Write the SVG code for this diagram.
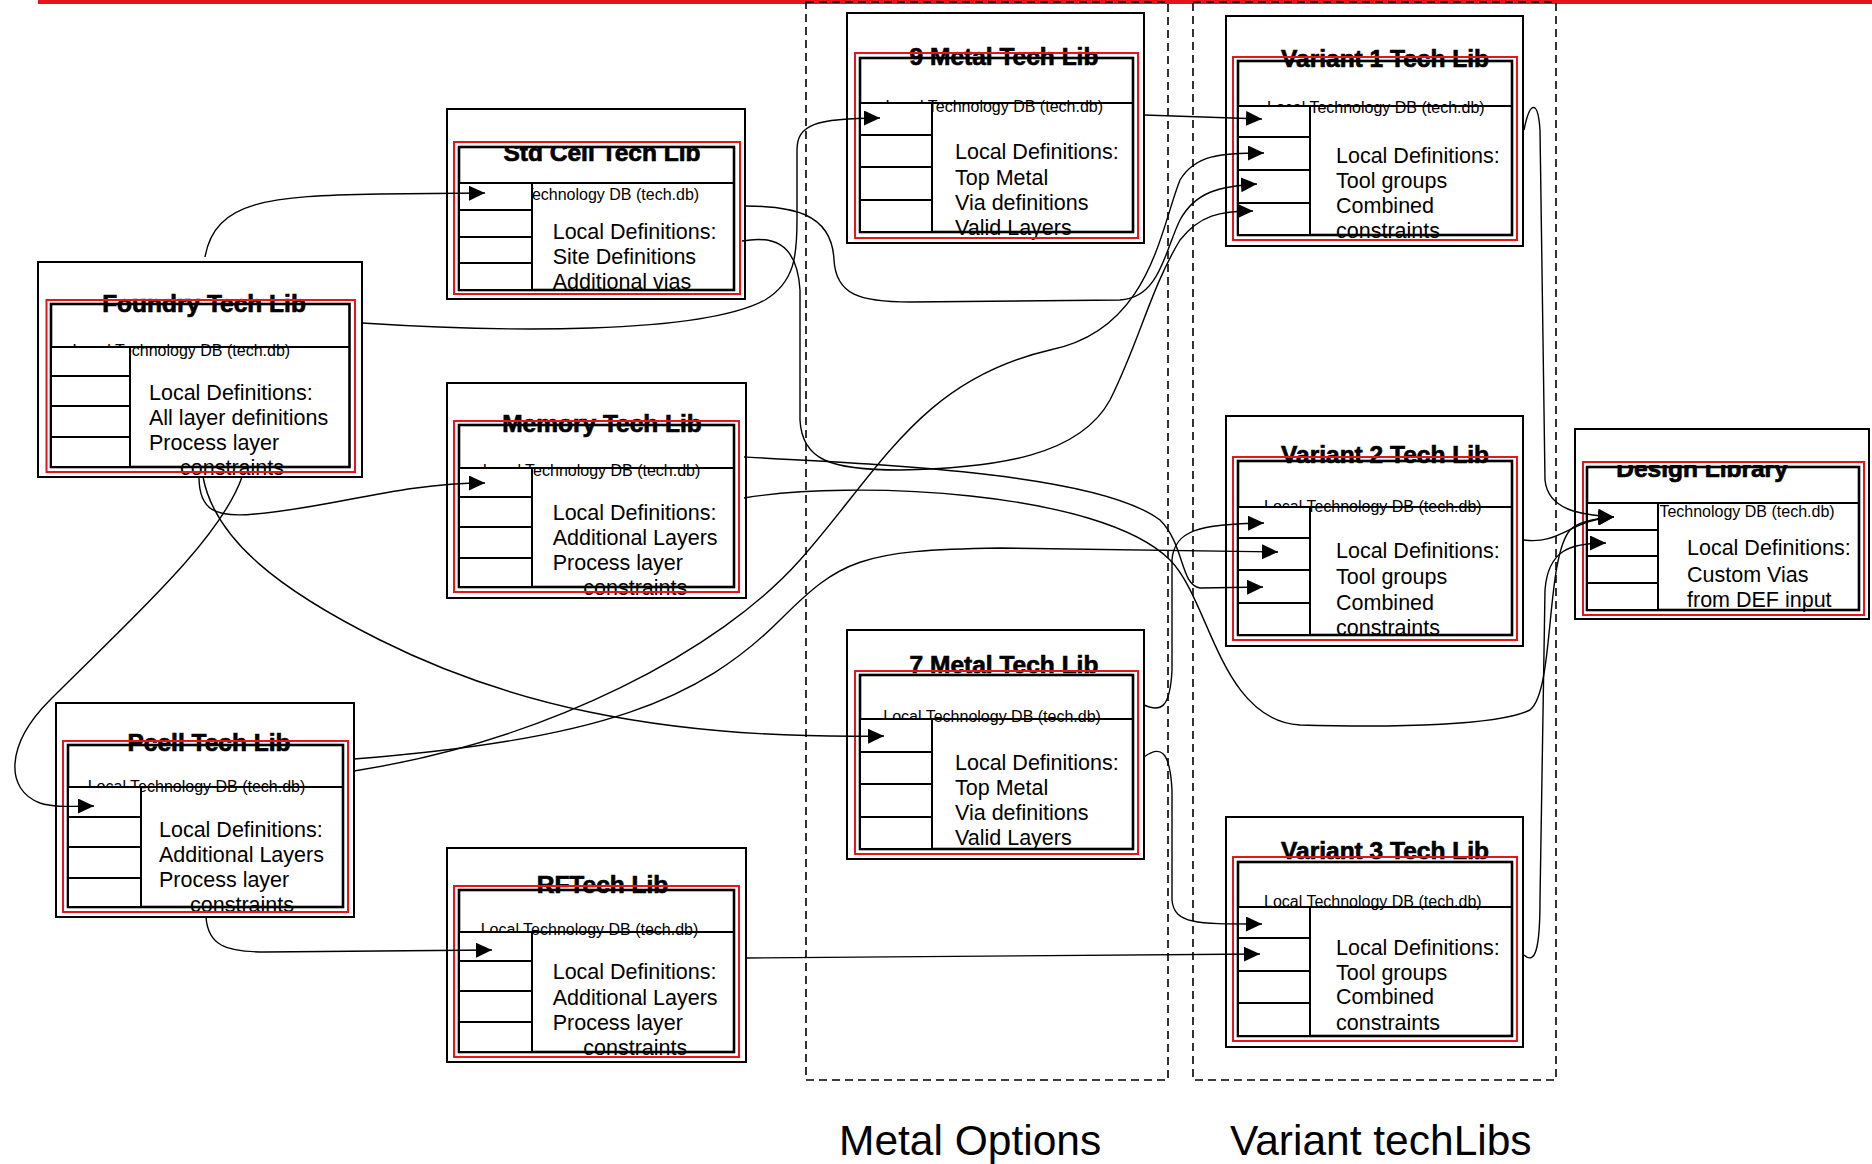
<svg xmlns="http://www.w3.org/2000/svg" width="1872" height="1164" viewBox="0 0 1872 1164">
<style>
  .outer { fill: #fff; stroke: #000; stroke-width: 2; }
  .red { fill: none; stroke: #e8141c; stroke-width: 2; }
  .inner { fill: none; stroke: #000; stroke-width: 2.6; }
  .cell { fill: #fff; stroke: #000; stroke-width: 2; }
  .rule { stroke: #000; stroke-width: 2.2; }
  .title { font-family: "Liberation Sans", Arial, sans-serif; font-weight: bold; font-size: 24.5px; text-anchor: middle; fill: #000; stroke: #000; stroke-width: 0.7; }
  .tech { font-family: "Liberation Sans", Arial, sans-serif; font-size: 16px; fill: #000; }
  .def { font-family: "Liberation Sans", Arial, sans-serif; font-size: 21.5px; fill: #000; }
  .group { fill: none; stroke: #000; stroke-width: 1.6; stroke-dasharray: 8 5; }
  .label { font-family: "Liberation Sans", Arial, sans-serif; font-size: 42.5px; fill: #000; }
  .conn { fill: none; stroke: #000; stroke-width: 1.4; marker-end: url(#arrow); }
</style>
<defs>
  <marker id="arrow" markerUnits="userSpaceOnUse" markerWidth="18" markerHeight="16" refX="16" refY="7.5" orient="auto">
    <path d="M0,0 L16,7.5 L0,15 Z" fill="#000"/>
  </marker>
  <clipPath id="clipStd"><rect x="440" y="146" width="320" height="60"/></clipPath>
  <clipPath id="clipDes"><rect x="1580" y="465" width="290" height="60"/></clipPath>
</defs>

<rect width="1872" height="1164" fill="#fff"/>
<!-- top rule -->
<rect x="38" y="0" width="1834" height="4" fill="#e8141c"/>

<!-- option groupings -->
<g id="groups">
  <rect class="group" x="806" y="2" width="362" height="1078"/>
  <rect class="group" x="1193" y="2" width="363" height="1078"/>
  <text class="label" x="839" y="1155">Metal Options</text>
  <text class="label" x="1230" y="1155">Variant techLibs</text>
</g>

<!-- Foundry Tech Lib -->
<g id="foundry">
  <rect class="outer" x="38" y="262" width="324" height="215"/>
  <text class="title" x="204" y="312">Foundry Tech Lib</text>
  <text class="tech" x="72.5" y="356">Local Technology DB (tech.db)</text>
  <text class="def" x="149" y="400">Local Definitions:</text>
  <text class="def" x="149" y="425">All layer definitions</text>
  <text class="def" x="149" y="450">Process layer</text>
  <text class="def" x="180" y="475">constraints</text>
  <rect class="red" x="46.5" y="300" width="308.5" height="172"/>
  <rect class="inner" x="51" y="304" width="298.5" height="163"/>
  <line class="rule" x1="51" y1="347" x2="349.5" y2="347"/>
  <rect class="cell" x="51" y="347" width="79" height="29"/>
  <rect class="cell" x="51" y="376" width="79" height="30"/>
  <rect class="cell" x="51" y="406" width="79" height="31"/>
  <rect class="cell" x="51" y="437" width="79" height="30"/>
</g>

<!-- Std Cell Tech Lib -->
<g id="stdcell">
  <rect class="outer" x="447" y="109" width="298" height="190"/>
  <text class="title" x="602" y="161" clip-path="url(#clipStd)">Std Cell Tech Lib</text>
  <text class="tech" x="481.5" y="200">Local Technology DB (tech.db)</text>
  <text class="def" x="552.7" y="239">Local Definitions:</text>
  <text class="def" x="552.7" y="264">Site Definitions</text>
  <text class="def" x="552.7" y="289">Additional vias</text>
  <rect class="red" x="454" y="142" width="286" height="152"/>
  <rect class="inner" x="459" y="147" width="275" height="143"/>
  <line class="rule" x1="459" y1="183" x2="734" y2="183"/>
  <rect class="cell" x="459" y="183" width="73" height="27"/>
  <rect class="cell" x="459" y="210" width="73" height="27"/>
  <rect class="cell" x="459" y="237" width="73" height="26"/>
  <rect class="cell" x="459" y="263" width="73" height="27"/>
</g>

<!-- Memory Tech Lib -->
<g id="memory">
  <rect class="outer" x="447" y="383" width="299" height="215"/>
  <text class="title" x="602" y="432">Memory Tech Lib</text>
  <text class="tech" x="482.7" y="476">Local Technology DB (tech.db)</text>
  <text class="def" x="552.7" y="520">Local Definitions:</text>
  <text class="def" x="552.7" y="545">Additional Layers</text>
  <text class="def" x="552.7" y="570">Process layer</text>
  <text class="def" x="583.3" y="595">constraints</text>
  <rect class="red" x="454" y="421" width="285" height="171"/>
  <rect class="inner" x="459" y="425" width="275" height="162"/>
  <line class="rule" x1="459" y1="468" x2="734" y2="468"/>
  <rect class="cell" x="459" y="468" width="73" height="29"/>
  <rect class="cell" x="459" y="497" width="73" height="30"/>
  <rect class="cell" x="459" y="527" width="73" height="31"/>
  <rect class="cell" x="459" y="558" width="73" height="29"/>
</g>

<!-- Pcell Tech Lib -->
<g id="pcell">
  <rect class="outer" x="56" y="703" width="298" height="214"/>
  <text class="title" x="209" y="751">Pcell Tech Lib</text>
  <text class="tech" x="87.7" y="792">Local Technology DB (tech.db)</text>
  <text class="def" x="159" y="837">Local Definitions:</text>
  <text class="def" x="159" y="862">Additional Layers</text>
  <text class="def" x="159" y="887">Process layer</text>
  <text class="def" x="190" y="912">constraints</text>
  <rect class="red" x="63" y="741" width="285" height="171"/>
  <rect class="inner" x="68" y="745" width="275" height="162"/>
  <line class="rule" x1="68" y1="787" x2="343" y2="787"/>
  <rect class="cell" x="68" y="787" width="73" height="30"/>
  <rect class="cell" x="68" y="817" width="73" height="30"/>
  <rect class="cell" x="68" y="847" width="73" height="31"/>
  <rect class="cell" x="68" y="878" width="73" height="29"/>
</g>

<!-- RF Tech Lib -->
<g id="rf">
  <rect class="outer" x="447" y="848" width="299" height="214"/>
  <text class="title" x="602.5" y="893">RFTech Lib</text>
  <text class="tech" x="480.7" y="935">Local Technology DB (tech.db)</text>
  <text class="def" x="552.7" y="979">Local Definitions:</text>
  <text class="def" x="552.7" y="1005">Additional Layers</text>
  <text class="def" x="552.7" y="1030">Process layer</text>
  <text class="def" x="583.3" y="1055">constraints</text>
  <rect class="red" x="454" y="886" width="285" height="171"/>
  <rect class="inner" x="459" y="890" width="275" height="162"/>
  <line class="rule" x1="459" y1="932" x2="734" y2="932"/>
  <rect class="cell" x="459" y="932" width="73" height="29"/>
  <rect class="cell" x="459" y="961" width="73" height="30"/>
  <rect class="cell" x="459" y="991" width="73" height="31"/>
  <rect class="cell" x="459" y="1022" width="73" height="30"/>
</g>

<!-- 9 Metal Tech Lib -->
<g id="metal9">
  <rect class="outer" x="847" y="13" width="297" height="230"/>
  <text class="title" x="1004" y="65">9 Metal Tech Lib</text>
  <text class="tech" x="885.4" y="112">Local Technology DB (tech.db)</text>
  <text class="def" x="955" y="159">Local Definitions:</text>
  <text class="def" x="955" y="185">Top Metal</text>
  <text class="def" x="955" y="210">Via definitions</text>
  <text class="def" x="955" y="235">Valid Layers</text>
  <rect class="red" x="855" y="53" width="283" height="185"/>
  <rect class="inner" x="860" y="58" width="273" height="174"/>
  <line class="rule" x1="860" y1="103" x2="1133" y2="103"/>
  <rect class="cell" x="860" y="103" width="72" height="32"/>
  <rect class="cell" x="860" y="135" width="72" height="32"/>
  <rect class="cell" x="860" y="167" width="72" height="33"/>
  <rect class="cell" x="860" y="200" width="72" height="32"/>
</g>

<!-- 7 Metal Tech Lib -->
<g id="metal7">
  <rect class="outer" x="847" y="630" width="297" height="229"/>
  <text class="title" x="1004" y="673">7 Metal Tech Lib</text>
  <text class="tech" x="883.3" y="722">Local Technology DB (tech.db)</text>
  <text class="def" x="955" y="770">Local Definitions:</text>
  <text class="def" x="955" y="795">Top Metal</text>
  <text class="def" x="955" y="820">Via definitions</text>
  <text class="def" x="955" y="845">Valid Layers</text>
  <rect class="red" x="855" y="671" width="283" height="183"/>
  <rect class="inner" x="860" y="675" width="273" height="174"/>
  <line class="rule" x1="860" y1="719" x2="1133" y2="719"/>
  <rect class="cell" x="860" y="719" width="72" height="33"/>
  <rect class="cell" x="860" y="752" width="72" height="32"/>
  <rect class="cell" x="860" y="784" width="72" height="33"/>
  <rect class="cell" x="860" y="817" width="72" height="32"/>
</g>

<!-- Variant 1 Tech Lib -->
<g id="variant1">
  <rect class="outer" x="1226" y="16" width="297" height="230"/>
  <text class="title" x="1385" y="67">Variant 1 Tech Lib</text>
  <text class="tech" x="1267" y="113">Local Technology DB (tech.db)</text>
  <text class="def" x="1336" y="163">Local Definitions:</text>
  <text class="def" x="1336" y="188">Tool groups</text>
  <text class="def" x="1336" y="213">Combined</text>
  <text class="def" x="1336" y="238">constraints</text>
  <rect class="red" x="1233" y="57" width="284" height="183"/>
  <rect class="inner" x="1238" y="61" width="274" height="174"/>
  <line class="rule" x1="1238" y1="106" x2="1512" y2="106"/>
  <rect class="cell" x="1238" y="106" width="72" height="31"/>
  <rect class="cell" x="1238" y="137" width="72" height="33"/>
  <rect class="cell" x="1238" y="170" width="72" height="33"/>
  <rect class="cell" x="1238" y="203" width="72" height="32"/>
</g>

<!-- Variant 2 Tech Lib -->
<g id="variant2">
  <rect class="outer" x="1226" y="416" width="297" height="230"/>
  <text class="title" x="1385" y="463">Variant 2 Tech Lib</text>
  <text class="tech" x="1264" y="512">Local Technology DB (tech.db)</text>
  <text class="def" x="1336" y="558">Local Definitions:</text>
  <text class="def" x="1336" y="584">Tool groups</text>
  <text class="def" x="1336" y="610">Combined</text>
  <text class="def" x="1336" y="635">constraints</text>
  <rect class="red" x="1233" y="457" width="284" height="183"/>
  <rect class="inner" x="1238" y="461" width="274" height="174"/>
  <line class="rule" x1="1238" y1="507" x2="1512" y2="507"/>
  <rect class="cell" x="1238" y="507" width="72" height="31"/>
  <rect class="cell" x="1238" y="538" width="72" height="32"/>
  <rect class="cell" x="1238" y="570" width="72" height="33"/>
  <rect class="cell" x="1238" y="603" width="72" height="32"/>
</g>

<!-- Variant 3 Tech Lib -->
<g id="variant3">
  <rect class="outer" x="1226" y="817" width="297" height="230"/>
  <text class="title" x="1385" y="859">Variant 3 Tech Lib</text>
  <text class="tech" x="1264" y="907">Local Technology DB (tech.db)</text>
  <text class="def" x="1336" y="955">Local Definitions:</text>
  <text class="def" x="1336" y="980">Tool groups</text>
  <text class="def" x="1336" y="1004">Combined</text>
  <text class="def" x="1336" y="1030">constraints</text>
  <rect class="red" x="1233" y="857" width="284" height="184"/>
  <rect class="inner" x="1238" y="862" width="274" height="174"/>
  <line class="rule" x1="1238" y1="907" x2="1512" y2="907"/>
  <rect class="cell" x="1238" y="907" width="72" height="31"/>
  <rect class="cell" x="1238" y="938" width="72" height="33"/>
  <rect class="cell" x="1238" y="971" width="72" height="32"/>
  <rect class="cell" x="1238" y="1003" width="72" height="33"/>
</g>

<!-- Design Library -->
<g id="designlib">
  <rect class="outer" x="1575" y="429" width="294" height="190"/>
  <text class="title" x="1702" y="477" clip-path="url(#clipDes)">Design Library</text>
  <text class="tech" x="1617" y="517">Local Technology DB (tech.db)</text>
  <text class="def" x="1687" y="555">Local Definitions:</text>
  <text class="def" x="1687" y="582">Custom Vias</text>
  <text class="def" x="1687" y="607">from DEF input</text>
  <rect class="red" x="1583" y="462" width="281" height="153"/>
  <rect class="inner" x="1587" y="467" width="272" height="143"/>
  <line class="rule" x1="1587" y1="503" x2="1859" y2="503"/>
  <rect class="cell" x="1587" y="503" width="71" height="27"/>
  <rect class="cell" x="1587" y="530" width="71" height="26"/>
  <rect class="cell" x="1587" y="556" width="71" height="27"/>
  <rect class="cell" x="1587" y="583" width="71" height="27"/>
</g>

<!-- connectors -->
<g id="connectors">
  <path class="conn" d="M205,257 C215,200 270,196 380,194 L485,193"/>
  <path class="conn" d="M362,323 C500,332 700,335 765,300 C795,282 797,255 797,220 L797,150 C797,125 815,118 880,118"/>
  <path class="conn" d="M199,477 C199,510 215,518 255,514 C330,508 400,483 485,483"/>
  <path class="conn" d="M242,477 C220,540 130,620 50,700 C5,745 5,790 40,803 C55,808 75,806 94,806"/>
  <path class="conn" d="M203,477 C215,540 280,590 380,640 C500,700 650,740 884,736"/>
  <path class="conn" d="M206,917 C208,945 225,952 265,952 L492,950"/>
  <path class="conn" d="M746,958 L1260,954"/>
  <path class="conn" d="M1144,757 C1160,745 1170,750 1172,790 L1172,900 C1174,925 1200,924 1262,924"/>
  <path class="conn" d="M1144,705 C1160,712 1170,710 1172,670 L1172,560 C1174,530 1200,524 1264,523"/>
  <path class="conn" d="M1144,115 L1262,119"/>
  <path class="conn" d="M745,206 C790,206 832,212 834,260 C836,295 860,302 910,302 L1120,300 C1160,298 1165,250 1180,220 C1195,192 1220,186 1257,184"/>
  <path class="conn" d="M742,241 C770,236 797,240 800,290 L800,420 C802,460 830,470 900,470 C1000,468 1080,455 1110,400 C1140,340 1150,290 1180,240 C1200,215 1220,211 1253,211"/>
  <path class="conn" d="M744,457 C900,465 1100,475 1160,520 C1185,545 1180,585 1200,588 L1263,587"/>
  <path class="conn" d="M744,498 C850,480 1100,490 1170,560 C1210,600 1220,720 1300,725 C1400,728 1500,725 1530,710 C1555,690 1545,560 1570,530 C1580,520 1600,518 1614,517"/>
  <path class="conn" d="M354,759 C600,740 700,700 780,620 C840,560 860,550 1000,548 L1278,552"/>
  <path class="conn" d="M354,771 C550,740 720,650 800,560 C880,470 920,380 1050,350 C1150,330 1160,230 1180,180 C1195,155 1220,153 1264,153"/>
  <path class="conn" d="M1524,130 C1530,100 1538,100 1540,130 L1545,480 C1548,510 1580,515 1614,517"/>
  <path class="conn" d="M1524,540 C1560,545 1570,520 1614,517"/>
  <path class="conn" d="M1524,955 C1535,965 1540,950 1540,900 L1545,590 C1548,550 1570,543 1606,543"/>
</g>
</svg>
